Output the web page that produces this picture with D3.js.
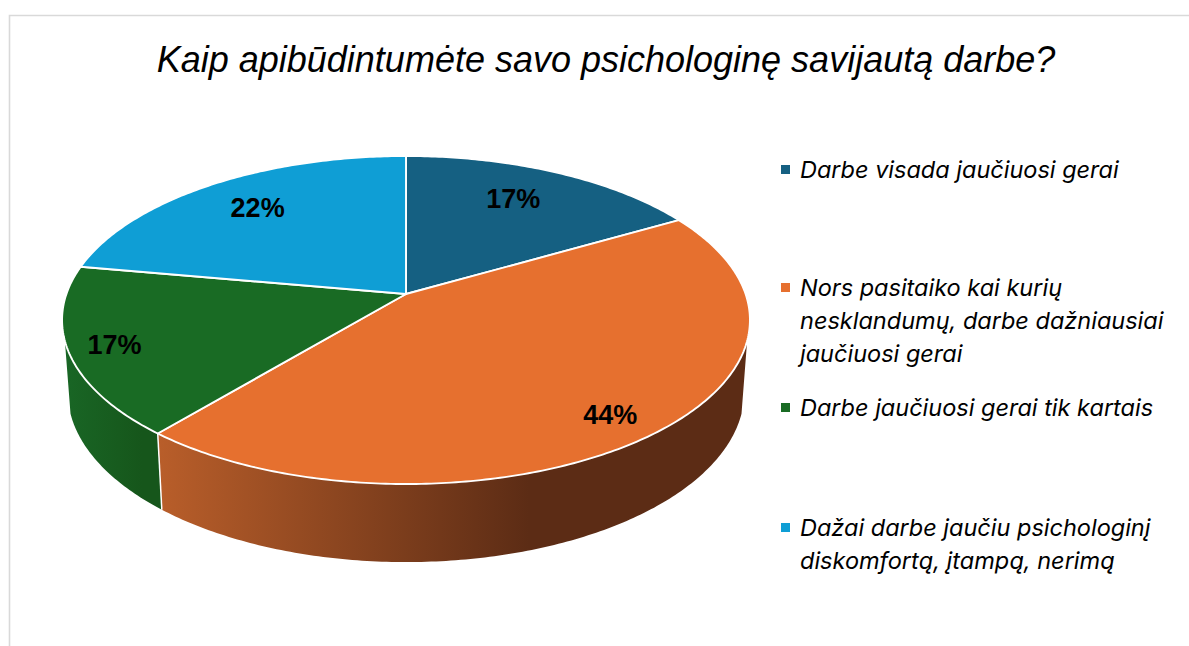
<!DOCTYPE html>
<html>
<head>
<meta charset="utf-8">
<script src="https://cdn.jsdelivr.net/npm/d3@7"></script>
<style>
html,body{margin:0;padding:0;background:#fff;overflow:hidden;}
svg{display:block;}
text{font-family:"Liberation Sans",Arial,sans-serif;fill:#000;}
.title{font-size:36px;font-style:italic;}
.legendText{font-family:Inter,"Liberation Sans",sans-serif;font-size:23.5px;font-style:italic;}
.pct{font-size:27px;font-weight:bold;}
</style>
</head>
<body>
<svg id="chart"></svg>
<script>
var w=1189;
var h=646;
var title="Kaip apibūdintumėte savo psichologinę savijautą darbe?";
var categories=["Darbe visada jaučiuosi gerai","Nors pasitaiko kai kurių nesklandumų, darbe dažniausiai jaučiuosi gerai","Darbe jaučiuosi gerai tik kartais","Dažai darbe jaučiu psichologinį diskomfortą, įtampą, nerimą"];
var values=[16.7,44.4,16.7,22.2];
var labels=["17%","44%","17%","22%"];
var colors=["#156082","#e6702f","#196b24","#0f9ed5"];

// legend wrapping, same breaks as the picture
var legendLines=[
  ["Darbe visada jaučiuosi gerai"],
  ["Nors pasitaiko kai kurių","nesklandumų, darbe dažniausiai","jaučiuosi gerai"],
  ["Darbe jaučiuosi gerai tik kartais"],
  ["Dažai darbe jaučiu psichologinį","diskomfortą, įtampą, nerimą"]
];
var legendY=[170,288,408,528];
var lineGap=33;
// where each % label sits inside its slice
var labelRadius=[0.75,0.86,0.87,0.76];
var labelShift=[-2.3,1.3,0,1];

// perspective of the disc: back edge is flatter than the front edge
var persp=0.1585;
var top3d={x:406,y:294,rx:339.6,ry:113.3};
var bottom3d={x:406,y:365,rx:334,ry:108};
// the side wall is only visible between these angles
var wallFrom=106.3*Math.PI/180;
var wallTo=253.7*Math.PI/180;

function project(disc,angle,r){
  var u=r*Math.sin(angle);
  var v=r*Math.cos(angle);
  var k=1+persp*v;
  return [disc.x+disc.rx*u/k,(disc.y-disc.ry*v)/k];
}
function arcPoints(disc,a0,a1){
  var n=Math.max(2,Math.ceil((a1-a0)*80));
  return d3.range(n+1).map(function(i){
    return project(disc,a0+(a1-a0)*i/n,1);
  });
}

var svg=d3.select("#chart")
          .attr("width",w)
          .attr("height",h);
var color=d3.scaleOrdinal().domain(categories).range(colors);
var pie=d3.pie().sort(null).value(function(d){return d;});
var slices=pie(values);
var line=d3.line();

// chart frame, only top and left show in the crop
svg.append("path")
   .attr("d","M9.5,"+h+"V15.5H"+w)
   .attr("fill","none")
   .attr("stroke","#d9d9d9")
   .attr("stroke-width",1.6);

var defs=svg.append("defs");
function wallGradient(id,stops){
  var g=defs.append("linearGradient").attr("id",id);
  g.selectAll("stop")
   .data(stops)
   .enter()
   .append("stop")
   .attr("offset",function(d){return d[0];})
   .attr("stop-color",function(d){return d[1];});
}
wallGradient("wall1",[[0,"#b95e2a"],[0.63,"#5c2c15"],[1,"#5c2c15"]]);
wallGradient("wall2",[[0,"#196625"],[0.8,"#16561b"],[1,"#16561b"]]);

// side walls
var walls=slices.map(function(d,i){
  return {a0:Math.max(d.startAngle,wallFrom),a1:Math.min(d.endAngle,wallTo),i:i};
}).filter(function(d){return d.a1>d.a0;});
svg.append("g")
   .selectAll("path")
   .data(walls)
   .enter()
   .append("path")
   .attr("d",function(d){
     var upper=arcPoints(top3d,d.a0,d.a1);
     var lower=arcPoints(bottom3d,d.a0,d.a1).reverse();
     return line(upper.concat(lower))+"Z";
   })
   .attr("fill",function(d){return d.i==1?"url(#wall1)":"url(#wall2)";});
// seam between orange and green wall
svg.append("path")
   .attr("d",line([project(top3d,slices[1].endAngle,1),project(bottom3d,slices[1].endAngle,1)]))
   .attr("stroke","#fff")
   .attr("stroke-width",1.5);

// top of the pie
svg.append("g")
   .selectAll("path")
   .data(slices)
   .enter()
   .append("path")
   .attr("d",function(d){
     var pts=[project(top3d,0,0)].concat(arcPoints(top3d,d.startAngle,d.endAngle));
     return line(pts)+"Z";
   })
   .attr("fill",function(d,i){return color(categories[i]);})
   .attr("stroke","#fff")
   .attr("stroke-width",1.9)
   .attr("stroke-linejoin","round");

svg.append("g")
   .selectAll("text")
   .data(slices)
   .enter()
   .append("text")
   .classed("pct",true)
   .attr("text-anchor","middle")
   .attr("dy","0.36em")
   .attr("transform",function(d,i){
     var mid=(d.startAngle+d.endAngle)/2+labelShift[i]*Math.PI/180;
     return "translate("+project(top3d,mid,labelRadius[i])+")";
   })
   .text(function(d,i){return labels[i];});

svg.append("text")
   .classed("title",true)
   .attr("x",606)
   .attr("y",72)
   .attr("text-anchor","middle")
   .text(title);

var legend=svg.append("g")
   .selectAll("g")
   .data(categories)
   .enter()
   .append("g")
   .attr("transform",function(d,i){return "translate(781,"+legendY[i]+")";});
legend.append("rect")
   .attr("x",0)
   .attr("y",-5)
   .attr("width",9)
   .attr("height",9)
   .attr("fill",function(d){return color(d);});
legend.each(function(d,i){
  d3.select(this)
    .selectAll("text")
    .data(legendLines[i])
    .enter()
    .append("text")
    .classed("legendText",true)
    .attr("x",19)
    .attr("y",function(t,j){return 8+j*lineGap;})
    .text(function(t){return t;});
});
</script>
</body>
</html>
